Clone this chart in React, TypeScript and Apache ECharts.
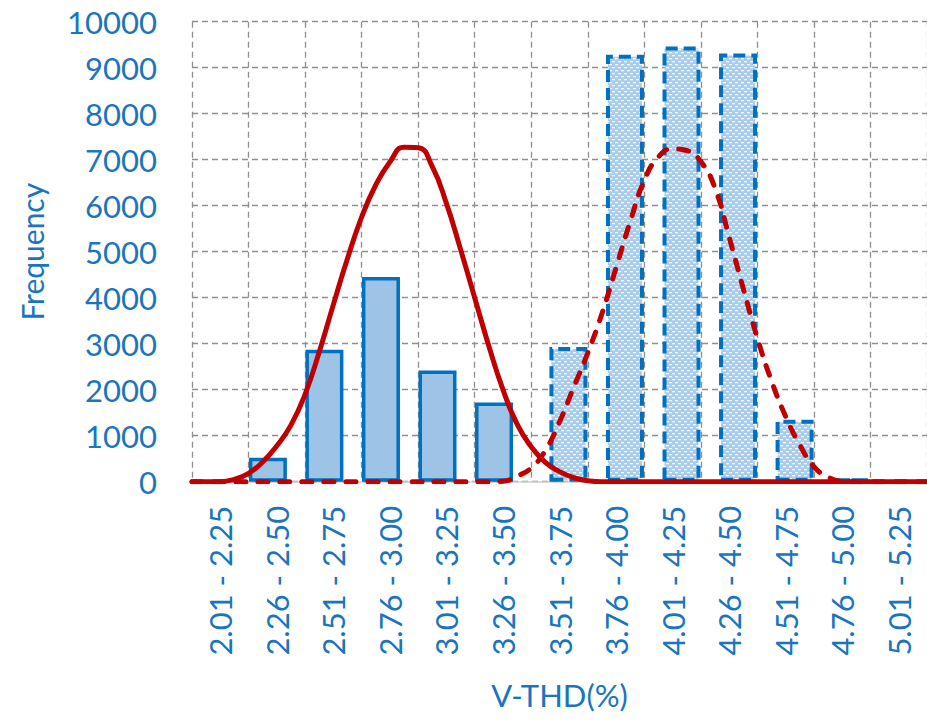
import React, { useEffect, useRef } from "react";
import * as echarts from "echarts";

// V-THD histogram bins
const categories = [
  "2.01 - 2.25", "2.26 - 2.50", "2.51 - 2.75", "2.76 - 3.00", "3.01 - 3.25",
  "3.26 - 3.50", "3.51 - 3.75", "3.76 - 4.00", "4.01 - 4.25", "4.26 - 4.50",
  "4.51 - 4.75", "4.76 - 5.00", "5.01 - 5.25",
];

// Frequencies of the lower group (solid bars)
const lowBandCounts = [null, 520, 2870, 4450, 2420, 1720, null, null, null, null, null, null, null];
// Frequencies of the upper group (dotted, dashed-outline bars)
const highBandCounts = [null, null, null, null, null, null, 2930, 9280, 9460, 9310, 1345, 60, null];

// Fitted distribution of the lower group (V-THD %, frequency)
const lowFitThd = [2.0, 2.125, 2.1875, 2.25, 2.3125, 2.375, 2.4375, 2.5, 2.5625, 2.625, 2.6875, 2.75, 2.8125, 2.875, 2.9375, 3.0, 3.0625, 3.125, 3.1875, 3.25, 3.3125, 3.375, 3.4375, 3.5, 3.5625, 3.625, 3.6875, 3.75, 3.8125, 4.5, 5.25];
const lowFitFreq = [0, 0, 50, 180, 430, 780, 1230, 1900, 2820, 3850, 4850, 5750, 6450, 6950, 7270, 7260, 6850, 6050, 5050, 4000, 2950, 2000, 1250, 760, 420, 220, 90, 20, 0, 0, 0];

// Fitted distribution of the upper group (V-THD %, frequency)
const highFitThd = [2.0, 2.8, 3.3125, 3.375, 3.4375, 3.5, 3.5625, 3.625, 3.6875, 3.75, 3.8125, 3.875, 3.9375, 4.0, 4.0625, 4.125, 4.1875, 4.25, 4.3125, 4.375, 4.4375, 4.5, 4.5625, 4.625, 4.6875, 4.75, 4.8125, 4.875, 4.9375, 5.25];
const highFitFreq = [0, 0, 0, 10, 120, 300, 680, 1300, 2050, 2800, 3650, 4650, 5650, 6550, 7060, 7235, 7200, 6960, 6384, 5320, 4200, 3120, 2190, 1420, 800, 330, 100, 10, 0, 0];

const TEXT_BLUE = "#1A75C0";
const BAR_BLUE = "#0070C0";
const FIT_RED = "#C00000";
const FONT = "Lato";

// Light blue tile with small staggered white dashes, used as the upper-group fill
function makeDotTile(): HTMLCanvasElement {
  const c = document.createElement("canvas");
  c.width = 6;
  c.height = 6;
  const ctx = c.getContext("2d")!;
  ctx.fillStyle = "#A9CCEB";
  ctx.fillRect(0, 0, 6, 6);
  ctx.fillStyle = "rgba(255,255,255,0.85)";
  ctx.fillRect(0, 1, 3, 1.3);
  ctx.fillRect(3, 4, 3, 1.3);
  return c;
}

export default function App() {
  const ref = useRef<HTMLDivElement>(null);

  useEffect(() => {
    document.body.style.margin = "0";
    if (!ref.current) return;
    const chart = echarts.init(ref.current, undefined, { renderer: "svg" });

    const gridLine = { show: true, lineStyle: { color: "#8f8f8f", type: [6, 4] as number[], width: 1.3 } };
    const tile = makeDotTile();

    chart.setOption({
      animation: false,
      textStyle: { fontFamily: FONT },
      grid: { left: 192, right: -2, top: 21.7, bottom: 242.3, containLabel: false },
      xAxis: [
        {
          type: "category",
          data: categories,
          boundaryGap: true,
          axisTick: { show: false },
          axisLine: { show: true, lineStyle: { color: "#d0d0d0", width: 1.5 } },
          splitLine: gridLine,
          axisLabel: {
            interval: 0,
            rotate: 90,
            margin: 24,
            fontSize: 31,
            color: TEXT_BLUE,
            fontFamily: FONT,
          },
          name: "V-THD(%)",
          nameLocation: "middle",
          nameGap: 198,
          nameTextStyle: { fontSize: 31, color: TEXT_BLUE, fontFamily: FONT },
        },
        {
          type: "value",
          min: 2.0,
          max: 5.25,
          show: false,
        },
      ],
      yAxis: {
        type: "value",
        min: 0,
        max: 10000,
        interval: 1000,
        axisLine: { show: false },
        axisTick: { show: false },
        splitLine: gridLine,
        axisLabel: {
          fontSize: 31,
          color: TEXT_BLUE,
          margin: 35,
          fontFamily: FONT,
          formatter: (v: number) => String(v),
        },
        name: "Frequency",
        nameLocation: "middle",
        nameGap: 145,
        nameTextStyle: { fontSize: 30, color: TEXT_BLUE, fontFamily: FONT },
      },
      series: [
        {
          type: "bar",
          xAxisIndex: 0,
          data: lowBandCounts,
          barWidth: 38,
          barGap: "-53%",
          itemStyle: {
            color: "#9DC3E6",
            borderColor: BAR_BLUE,
            borderWidth: 3.5,
          },
        },
        {
          type: "bar",
          xAxisIndex: 0,
          data: highBandCounts,
          barWidth: 38,
          itemStyle: {
            color: { image: tile, repeat: "repeat", imageWidth: 6, imageHeight: 6 },
            borderColor: BAR_BLUE,
            borderWidth: 4,
            borderType: [12, 6],
          },
        },
        {
          type: "line",
          xAxisIndex: 1,
          data: lowFitThd.map((t, i) => [t, lowFitFreq[i]]),
          smooth: 0.5,
          showSymbol: false,
          lineStyle: { color: FIT_RED, width: 5, cap: "round", join: "round" },
          z: 5,
        },
        {
          type: "line",
          xAxisIndex: 1,
          data: highFitThd.map((t, i) => [t, highFitFreq[i]]),
          smooth: 0.5,
          showSymbol: false,
          lineStyle: { color: FIT_RED, width: 5, type: [10, 12], cap: "round", join: "round" },
          z: 5,
        },
      ],
    });

    return () => chart.dispose();
  }, []);

  return <div ref={ref} style={{ width: 927, height: 724 }} />;
}
